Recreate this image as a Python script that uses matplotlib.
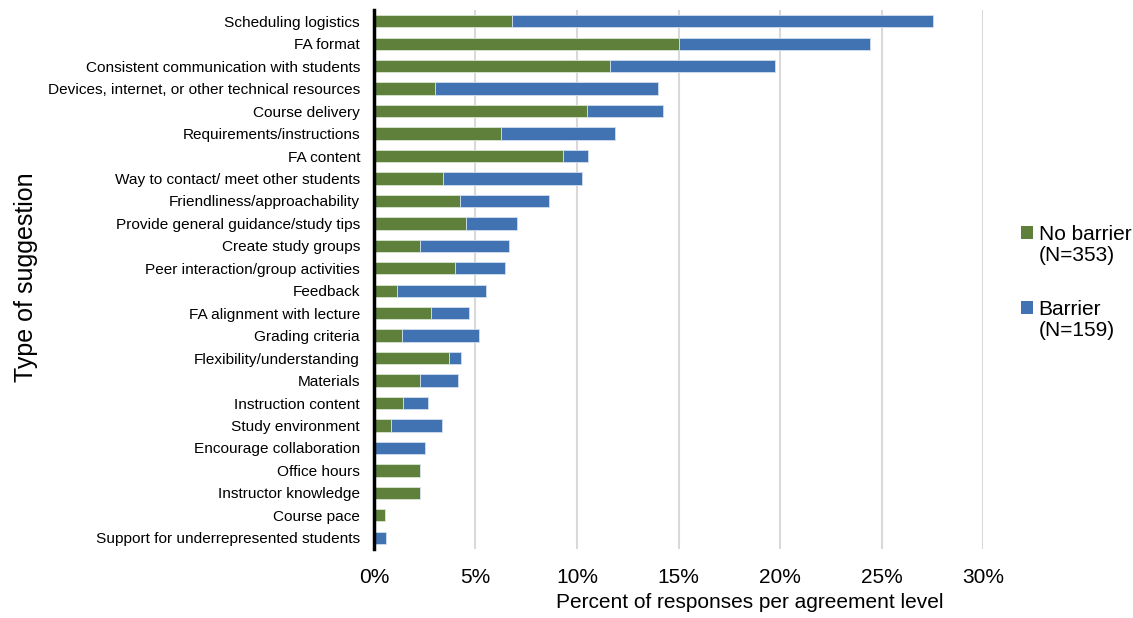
import matplotlib
matplotlib.use('Agg')
import matplotlib.pyplot as plt
from matplotlib.patches import Patch

plt.rcParams['font.family'] = ['Liberation Sans', 'DejaVu Sans']

categories = [
    'Scheduling logistics', 'FA format', 'Consistent communication with students',
    'Devices, internet, or other technical resources', 'Course delivery',
    'Requirements/instructions', 'FA content', 'Way to contact/ meet other students',
    'Friendliness/approachability', 'Provide general guidance/study tips',
    'Create study groups', 'Peer interaction/group activities', 'Feedback',
    'FA alignment with lecture', 'Grading criteria', 'Flexibility/understanding',
    'Materials', 'Instruction content', 'Study environment',
    'Encourage collaboration', 'Office hours', 'Instructor knowledge',
    'Course pace', 'Support for underrepresented students',
]
no_barrier = [6.80, 15.01, 11.61, 3.00, 10.48, 6.24, 9.33, 3.38, 4.22, 4.52,
              2.27, 3.99, 1.13, 2.81, 1.40, 3.69, 2.27, 1.41, 0.85, 0.00,
              2.27, 2.27, 0.56, 0.00]
barrier = [20.73, 9.42, 8.14, 10.97, 3.77, 5.62, 1.23, 6.88, 4.42, 2.51,
           4.36, 2.48, 4.39, 1.89, 3.76, 0.60, 1.85, 1.25, 2.50, 2.53,
           0.00, 0.00, 0.00, 0.61]
xticks = [0, 5, 10, 15, 20, 25, 30]

green = '#5E803B'
blue = '#4172B1'

fig = plt.figure(figsize=(11.33, 6.18), dpi=100)
ax = fig.add_axes([0.330, 0.1117, 0.538, 0.872])

y = list(range(len(categories)))
ax.barh(y, no_barrier, height=0.55, color=green, edgecolor='#DCE6D2', linewidth=0.6, zorder=3)
ax.barh(y, barrier, left=no_barrier, height=0.55, color=blue, edgecolor='#D2DEEE', linewidth=0.6, zorder=3)

ax.set_ylim(len(categories) - 0.5, -0.5)
ax.set_xlim(0, 30)
ax.set_yticks(y)
ax.set_yticklabels(categories, fontsize=11.1)
ax.set_xticks(xticks)
ax.set_xticklabels([f'{t}%' for t in xticks], fontsize=15)
ax.tick_params(length=0)
ax.tick_params(axis='x', pad=14)
ax.tick_params(axis='y', pad=10)

ax.grid(axis='x', color='#D9D9D9', linewidth=1.5, zorder=0)
for s in ['top', 'right', 'bottom']:
    ax.spines[s].set_visible(False)
ax.spines['left'].set_linewidth(2.5)
ax.spines['left'].set_zorder(4)

ax.set_xlabel('Percent of responses per agreement level', fontsize=15)
ax.xaxis.set_label_coords(0.617, -0.081)
ax.set_ylabel('Type of suggestion', fontsize=18)
ax.yaxis.set_label_coords(-0.551, 0.505)

# legend: square next to the first line of each two-line label
blank = Patch(facecolor='none', edgecolor='none')
leg_kw = dict(frameon=False, fontsize=15, handlelength=0.6, handleheight=0.6,
              handletextpad=0.25, labelspacing=0.1, borderpad=0, borderaxespad=0,
              loc='center left')
leg1 = fig.legend(handles=[Patch(facecolor=green), blank], labels=['No barrier', '(N=353)'],
                  bbox_to_anchor=(0.901, 0.6036), **leg_kw)
leg2 = fig.legend(handles=[Patch(facecolor=blue), blank], labels=['Barrier', '(N=159)'],
                  bbox_to_anchor=(0.901, 0.4822), **leg_kw)

fig.savefig('out.png', dpi=100)
